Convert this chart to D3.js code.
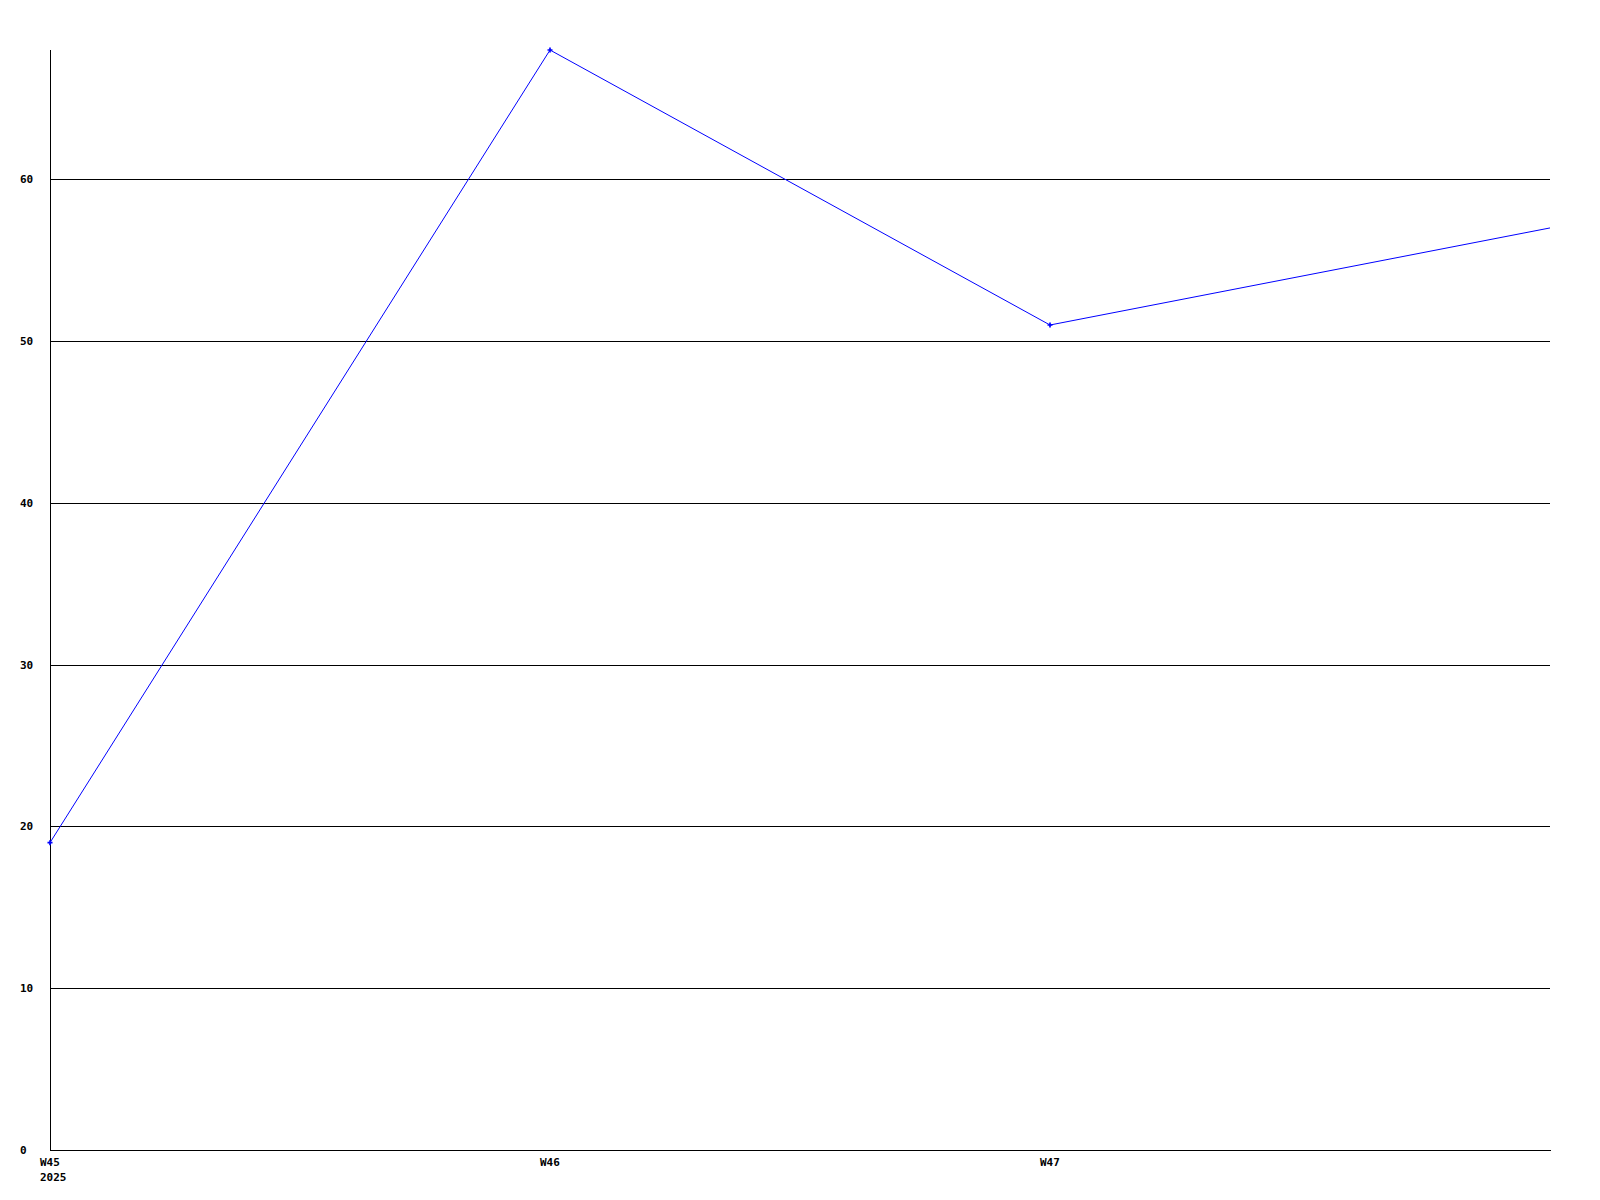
<!DOCTYPE html>
<html>
<head>
<meta charset="utf-8">
<script src="https://cdn.jsdelivr.net/npm/d3@7"></script>
<style>
  body { margin: 0; background: #fff; }
  text { font-family: "DejaVu Sans Mono", monospace; font-weight: bold; font-size: 11px; fill: #000; }
</style>
</head>
<body>
<div id="chart"></div>
<script>
// weekly values
var weeks = ["W45", "W46", "W47", "W48"];
var values = [19, 68, 51, 57];
var weekLabels = ["W45", "W46", "W47"];
var yearLabel = "2025";
var yTicks = [0, 10, 20, 30, 40, 50, 60];

const width = 1600, height = 1200;

const svg = d3.select('#chart')
  .append('svg')
  .attr('width', width)
  .attr('height', height);

var x = d3.scalePoint().domain(weeks).range([50, 1550]);
var y = d3.scaleLinear().domain([0, 68]).range([1150, 50]);

// gridlines
svg.selectAll("line.grid")
  .data(yTicks.filter(function(d){ return d > 0; }))
  .enter()
  .append("line")
  .attr("class", "grid")
  .attr("x1", 50)
  .attr("x2", 1550)
  .attr("y1", function(d){ return Math.round(y(d)) + 0.5; })
  .attr("y2", function(d){ return Math.round(y(d)) + 0.5; })
  .attr("stroke", "#000")
  .attr("shape-rendering", "crispEdges");

// axes
svg.append("line")
  .attr("x1", 50.5).attr("x2", 50.5)
  .attr("y1", 50).attr("y2", 1150)
  .attr("stroke", "#000")
  .attr("shape-rendering", "crispEdges");
svg.append("line")
  .attr("x1", 50).attr("x2", 1551)
  .attr("y1", 1150.5).attr("y2", 1150.5)
  .attr("stroke", "#000")
  .attr("shape-rendering", "crispEdges");

// y labels
svg.selectAll("text.ylab")
  .data(yTicks)
  .enter()
  .append("text")
  .attr("class", "ylab")
  .attr("x", 20)
  .attr("y", function(d){ return Math.round(y(d)) + 4; })
  .text(function(d){ return d; });

// x labels
svg.selectAll("text.xlab")
  .data(weekLabels)
  .enter()
  .append("text")
  .attr("class", "xlab")
  .attr("x", function(d){ return x(d) - 10; })
  .attr("y", 1166)
  .text(function(d){ return d; });

svg.append("text")
  .attr("x", x(weeks[0]) - 10)
  .attr("y", 1181)
  .text(yearLabel);

// series line
var line = d3.line()
  .x(function(d, i){ return x(weeks[i]); })
  .y(function(d){ return y(d); });

svg.append("path")
  .datum(values)
  .attr("d", line)
  .attr("fill", "none")
  .attr("stroke", "#0000ff")
  .attr("stroke-width", 1);

// markers
svg.selectAll("path.marker")
  .data(values.slice(0, 3))
  .enter()
  .append("path")
  .attr("class", "marker")
  .attr("d", d3.symbol().type(d3.symbolCross).size(14))
  .attr("transform", function(d, i){ return "translate(" + x(weeks[i]) + "," + y(d) + ")"; })
  .attr("fill", "#0000ff");
</script>
</body>
</html>
